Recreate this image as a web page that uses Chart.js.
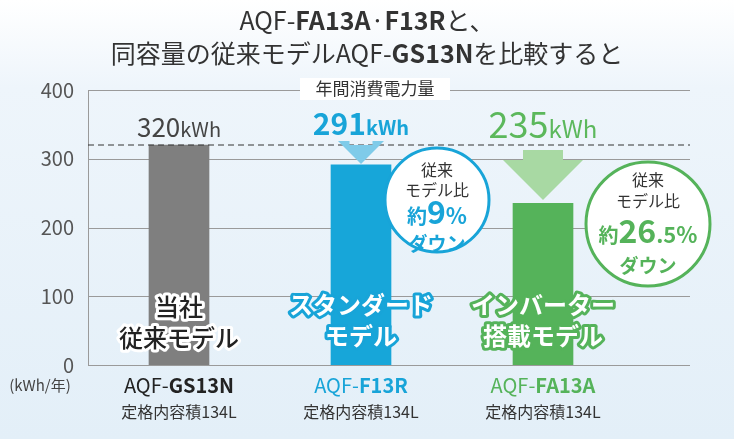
<!DOCTYPE html><html><head><meta charset="utf-8">
<script src="https://cdn.jsdelivr.net/npm/chart.js@4"></script>
<style>body{margin:0}#w{width:734px;height:439px}</style></head><body><div id="w"><canvas id="c"></canvas></div>
<script>
const categories=["AQF-GS13N","AQF-F13R","AQF-FA13A"];
const values=[320,291,235];
const yTicks=[0,100,200,300,400];
const barColors=["#7f7f7f","#17a6d9","#55b35a"];
const F="'Noto Sans CJK JP','Noto Sans',sans-serif";
function txt(ctx,s,x,y,size,color,weight,align,stroke,sw){ctx.font=(weight||"normal")+" "+size+"px "+F;ctx.textAlign=align||"center";ctx.textBaseline="middle";if(stroke){ctx.lineWidth=sw||5;ctx.strokeStyle=stroke;ctx.lineJoin="round";ctx.strokeText(s,x,y);}ctx.fillStyle=color;ctx.fillText(s,x,y);}
function runs(ctx,parts,x,y,color){
 let w=0;parts.forEach(p=>{ctx.font=p[2]+" "+p[1]+"px "+F;w+=ctx.measureText(p[0]).width;});
 let cx=x-w/2;parts.forEach(p=>{ctx.font=p[2]+" "+p[1]+"px "+F;ctx.textAlign="left";ctx.textBaseline="alphabetic";ctx.fillStyle=p[3]||color;ctx.fillText(p[0],cx,y);cx+=ctx.measureText(p[0]).width;});}
const deco={id:"deco",
beforeDraw(ch){const c=ch.ctx;const g=c.createLinearGradient(0,0,0,439);g.addColorStop(0,"#ffffff");g.addColorStop(0.2,"#eef5fb");g.addColorStop(1,"#e3eff8");c.fillStyle=g;c.fillRect(0,0,734,439);
 const y=ch.scales.y;c.strokeStyle="#9a9a9a";c.lineWidth=1;yTicks.forEach(v=>{const p=Math.round(y.getPixelForValue(v))+.5;c.beginPath();c.moveTo(88,p);c.lineTo(690,p);c.stroke();});
 c.beginPath();c.moveTo(88.5,y.getPixelForValue(400));c.lineTo(88.5,y.getPixelForValue(0));c.stroke();},
afterDatasetsDraw(ch){const c=ch.ctx,x=ch.scales.x,y=ch.scales.y;
 const p320=y.getPixelForValue(values[0]);c.save();c.setLineDash([6,4]);c.strokeStyle="#333";c.beginPath();c.moveTo(88,p320);c.lineTo(690,p320);c.stroke();c.restore();
 const X=i=>x.getPixelForValue(i);
 runs(c,[["AQF-",25,"normal"],["FA13A",25,"bold"],["·",25,"normal"],["F13R",25,"bold"],["と、",25,"normal"]],367,30,"#333");
 runs(c,[["同容量の従来モデルAQF-",25,"normal"],["GS13N",25,"bold"],["を比較すると",25,"normal"]],367,63,"#333");
 c.fillStyle="#fff";c.fillRect(300,78,150,22);txt(c,"年間消費電力量",375,89,17,"#333");
 runs(c,[["320",26,"normal"],["kWh",20,"normal"]],X(0),137,"#444");
 runs(c,[["291",30,"bold"],["kWh",20,"bold"]],X(1),135,"#18a4d8");
 runs(c,[["235",36,"normal"],["kWh",24,"normal"]],X(2),138,"#5cb85c");
 function arrow(cx,top,bot,w,col){c.fillStyle=col;c.beginPath();c.moveTo(cx-w/4,top);c.lineTo(cx+w/4,top);c.lineTo(cx+w/4,bot-w/2);c.lineTo(cx+w/2,bot-w/2);c.lineTo(cx,bot);c.lineTo(cx-w/2,bot-w/2);c.lineTo(cx-w/4,bot-w/2);c.closePath();c.fill();}
 arrow(X(1),145,164,46,"#7fcbe9");arrow(X(2),150,200,80,"#a8d9a3");
 function circ(cx,cy,r,col){c.beginPath();c.arc(cx,cy,r,0,Math.PI*2);c.fillStyle="#fff";c.fill();c.lineWidth=3;c.strokeStyle=col;c.stroke();}
 circ(437,200,52,"#18a4d8");txt(c,"従来",437,170,16,"#333");txt(c,"モデル比",437,190,16,"#333");
 runs(c,[["約",20,"bold"],["9",32,"bold"],["%",22,"bold"]],437,224,"#18a4d8");txt(c,"ダウン",437,244,19,"#18a4d8","bold");
 circ(648,224,62,"#55b35a");txt(c,"従来",648,180,16,"#333");txt(c,"モデル比",648,201,16,"#333");
 runs(c,[["約",20,"bold"],["26",32,"bold"],[".5",22,"bold"],["%",22,"bold"]],648,243,"#55b35a");txt(c,"ダウン",648,266,19,"#55b35a","bold");
 txt(c,"当社",X(0),307,24,"#222","500","center","#fff",6);txt(c,"従来モデル",X(0),338,24,"#222","500","center","#fff",6);
 txt(c,"スタンダード",X(1),305,24,"#fff","bold","center","#18a4d8",6);txt(c,"モデル",X(1),336,24,"#fff","bold","center","#18a4d8",6);
 txt(c,"インバーター",X(2),305,24,"#fff","bold","center","#55b35a",6);txt(c,"搭載モデル",X(2),336,24,"#fff","bold","center","#55b35a",6);
 txt(c,"(kWh/年)",40,385,15,"#444");
 const cols=["#222","#18a4d8","#55b35a"];
 categories.forEach((s,i)=>{const m=s.slice(0,4),b=s.slice(4);runs(c,[[m,20,"normal"],[b,20,"bold"]],X(i),393,cols[i]);txt(c,"定格内容積134L",X(i),412,16,"#333");});
}};
new Chart(document.getElementById("c"),{type:"bar",data:{labels:categories,datasets:[{data:values,backgroundColor:barColors,barThickness:60}]},
options:{responsive:true,maintainAspectRatio:false,animation:false,devicePixelRatio:1,layout:{padding:{top:90,bottom:74,right:100}},
plugins:{legend:{display:false},tooltip:{enabled:false}},
scales:{x:{display:false,offset:true},y:{min:0,max:400,afterFit:s=>{s.width=88;},grid:{display:false},border:{display:false},ticks:{stepSize:100,color:"#555",font:{size:20,family:F},padding:6}}}},plugins:[deco]});
</script></body></html>
